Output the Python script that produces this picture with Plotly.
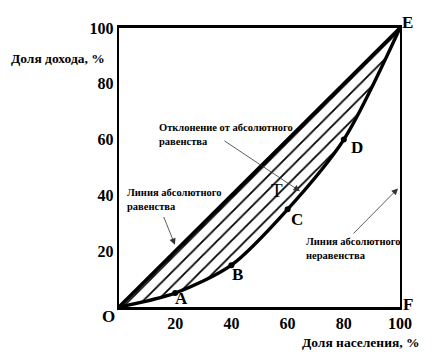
import plotly.graph_objects as go

# Data
population_pct = [0, 20, 40, 60, 80, 100]
income_pct = [0, 5, 15, 35, 60, 100]
point_labels = ["A", "B", "C", "D"]
equality_x = [0, 100]
equality_y = [0, 100]
tick_vals = [20, 40, 60, 80, 100]
tick_text = ["20", "40", "60", "80", "100"]

SERIF = "Liberation Serif, DejaVu Serif, serif"

fig = go.Figure()

# Line of absolute equality
fig.add_trace(go.Scatter(x=equality_x, y=equality_y, mode="lines",
                         line=dict(color="black", width=3.6), showlegend=False,
                         hoverinfo="skip"))
# Lorenz curve, hatched area between it and the diagonal
fig.add_trace(go.Scatter(x=population_pct, y=income_pct, mode="lines",
                         line=dict(color="black", width=3.4, shape="spline", smoothing=0.8),
                         fill="tonexty", fillcolor="white",
                         fillpattern=dict(shape="/", fgcolor="black", bgcolor="white",
                                          fgopacity=1, size=10, solidity=0.18,
                                          fillmode="replace"),
                         showlegend=False, hoverinfo="skip"))
# points A-D
fig.add_trace(go.Scatter(x=population_pct[1:5], y=income_pct[1:5], mode="markers",
                         marker=dict(color="black", size=6), showlegend=False,
                         hoverinfo="skip"))

ann = []
def txt(x, y, t, size, bold=True, xanchor="center", yanchor="middle", align="center",
        ref="x"):
    if bold:
        t = "<b>" + t + "</b>"
    if ref == "paper":
        d = dict(x=x / 100.0, y=y / 100.0, xref="paper", yref="paper")
    else:
        d = dict(x=x, y=y, xref="x", yref="y")
    d.update(text=t, showarrow=False,
             font=dict(family=SERIF, size=size, color="black"),
             xanchor=xanchor, yanchor=yanchor, align=align)
    ann.append(d)

# point letters
label_pos = [(22.4, 3.1), (42.0, 11.5), (63.3, 31.4), (84.7, 57.1)]
for (lx, ly), lab in zip(label_pos, point_labels):
    txt(lx, ly, lab, 17)
txt(-3.9, -3.5, "O", 17, ref="paper")
txt(102.6, 101.8, "E", 17, ref="paper")
txt(102.9, 0.8, "F", 17, ref="paper")
txt(56.2, 41.8, "T", 19, bold=False)

# axis titles
txt(-39.3, 88.9, "Доля дохода, %", 13.5, xanchor="left", ref="paper")
txt(107.3, -12.6, "Доля населения, %", 13.5, xanchor="right", ref="paper")

# annotation texts
txt(13.5, 62.0, "Отклонение от абсолютного<br>равенства", 10.5, xanchor="left", align="left")
txt(2.1, 38.7, "Линия абсолютного<br>равенства", 10.5, xanchor="left", align="left")
txt(65.8, 20.9, "Линия абсолютного<br>неравенства", 10.5, xanchor="left", align="left")

# arrows
def arrow(x0, y0, x1, y1):
    ann.append(dict(x=x1, y=y1, ax=x0, ay=y0, xref="x", yref="y", axref="x", ayref="y",
                    text="", showarrow=True, arrowhead=2, arrowsize=1.6, arrowwidth=0.8,
                    arrowcolor="#333"))
arrow(37.0, 59.9, 64.4, 41.5)
arrow(15.7, 32.8, 19.9, 22.3)
arrow(82.9, 25.8, 99.3, 42.5)

fig.update_layout(
    width=437, height=361,
    margin=dict(l=111, r=45, t=12, b=62),
    paper_bgcolor="white", plot_bgcolor="white",
    annotations=ann,
    xaxis=dict(range=[0, 100], showgrid=False, zeroline=False, showline=True, mirror=True,
               linecolor="black", linewidth=2.6, ticks="", tickvals=tick_vals,
               ticktext=["<b>" + t + "</b>" for t in tick_text],
               tickfont=dict(family=SERIF, size=16, color="black")),
    yaxis=dict(range=[0, 100], showgrid=False, zeroline=False, showline=True, mirror=True,
               linecolor="black", linewidth=2.4, ticks="", tickvals=tick_vals,
               ticktext=["<b>" + t + "</b>" for t in tick_text],
               tickfont=dict(family=SERIF, size=16, color="black")),
)

fig.write_html("out.html")
